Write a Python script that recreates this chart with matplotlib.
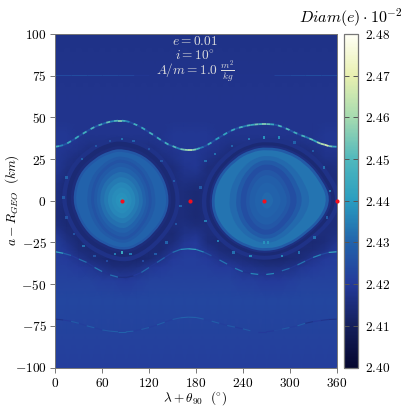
# Diameter map around the GEO resonance
import numpy as np
import matplotlib
matplotlib.use("Agg")
import matplotlib.pyplot as plt
from matplotlib.collections import LineCollection
from matplotlib.colors import LinearSegmentedColormap, Normalize
from matplotlib.patches import PathPatch
from matplotlib.path import Path

plt.rcParams['font.family'] = 'serif'
plt.rcParams['mathtext.fontset'] = 'cm'
plt.rcParams['font.size'] = 9.6

# background of the map, values are thousandths above 2.40
grid_lon = list(range(0, 361, 15))
grid_a = [100, 60, 48, 40, 35, 30, 25, 20, 15, 10, 5, 0, -5, -10, -15, -20, -25, -30, -35, -40, -48, -60, -100]
diam_table = [
    [17]*25,
    [18]*25,
    [18]*25,
    [19,19,18,18,18,18,18,18,18,18,19,19,19, 19,18,18,18,18,18,18,18,18,18,19,19],
    [19,19,18,17,17,17,17,17,17,18,19,19,19, 19,18,17,17,17,17,17,17,17,18,19,19],
    [19,18,17,15,15,15,15,15,15,17,18,19,19, 18,17,15,15,15,15,15,15,15,16,18,18],
    [19,17,15,15,15,15,15,15,15,15,17,19,19, 17,15,15,15,15,15,15,15,15,15,17,17],
    [19,16,15,15,15,15,15,15,15,15,15,18,19, 15,15,15,15,15,15,15,15,15,15,15,16],
    [18,15,15,15,15,15,15,15,15,15,15,17,17, 15,15,15,15,15,15,15,15,15,15,15,15],
    [17,14,15,15,15,15,15,15,15,15,15,16,15, 15,15,15,15,15,15,15,15,15,15,15,15],
    [16,14,15,15,15,15,15,15,15,15,15,15,14, 15,15,15,15,15,15,15,15,15,15,15,15],
    [16,14,15,15,15,15,15,15,15,15,15,15,14, 15,15,15,15,15,15,15,15,15,15,15,15],
    [15,14,15,15,15,15,15,15,15,15,15,15,14, 15,15,15,15,15,15,15,15,15,15,15,15],
    [15,14,15,15,15,15,15,15,15,15,15,15,14, 15,15,15,15,15,15,15,15,15,15,15,15],
    [16,14,15,15,15,15,15,15,15,15,15,16,15, 15,15,15,15,15,15,15,15,15,15,15,15],
    [19,15,14,15,15,15,15,15,15,15,14,17,18, 15,15,15,15,15,15,15,15,15,15,15,16],
    [21,17,14,15,15,15,15,15,15,14,15,19,20, 15,14,15,15,15,15,15,15,15,14,15,18],
    [21,19,15,14,15,15,15,15,14,14,18,20,20, 18,15,14,15,15,15,15,15,14,15,17,20],
    [21,20,18,15,14,13,13,13,14,17,20,21,21, 20,18,16,15,14,13,13,14,15,18,20,21],
    [21,21,20,19,17,15,15,16,19,20,21,21,21, 21,20,20,18,17,16,16,17,19,20,21,21],
    [22,22,22,22,21,21,20,21,22,22,22,22,22, 22,22,22,21,21,20,20,21,22,22,22,22],
    [23]*25,
    [21]*25,
]

# outlines of the two islands around their centres (deg, km), with the nested levels
left_center = 85
left_dlon = [0.9,28.6,50,60.6,58.5,41.4,20,0.9,-22.6,-44,-59,-63,-54.7,-35.4,-16.2]
left_da = [31.4,27.4,17.4,4.4,-7.6,-19.6,-27.6,-30,-26.6,-19.6,-7.6,3.4,16.4,25.4,30]
left_scale_lon = [1.24,1.15,1.06,1.0,0.95,0.85,0.72,0.64,0.58,0.52,0.45,0.37,0.29,0.21,0.13,0.06]
left_scale_a = [1.24,1.15,1.06,1.0,0.95,0.92,0.86,0.8,0.74,0.66,0.56,0.46,0.36,0.26,0.16,0.07]
left_level = [17,14,15,27,30,30,28,26,28,30,32,34,36,37,38,39]

right_center = 271
right_dlon = [0,26,51.7,70.9,81.6,73,51.7,26,0,-25.2,-50.8,-67.9,-72.2,-63.6,-42.3,-20.9]
right_da = [32.4,30.4,23.4,12.4,1.4,-9.6,-19.6,-27.6,-30.6,-28.6,-21.6,-10.6,1.4,14.4,25.4,30.8]
right_scale_lon = [1.18,1.1,1.04,1.0,0.95,0.82,0.68,0.56,0.48,0.42,0.38,0.32,0.22,0.1]
right_scale_a = [1.18,1.1,1.04,1.0,0.95,0.9,0.84,0.76,0.68,0.62,0.58,0.48,0.34,0.16]
right_level = [17,14,16,28,33,33,31,28,25,25,27,29,30,31]

# top ridge, read every 5 deg
top_lon = list(range(0, 361, 5))
top_a = [32.4,32.8,33.4,34.4,35.8,37.2,38.8,40.2,41.6,43,44.2,45.2,46,46.8,47.4,47.8,48,48,47.8,47.2,46.2,45.2,44,42.6,41,
         39.6,38,36.4,35,33.6,32.8,31.8,31,30.6,30.4,30.4,30.8,31.6,32.4,33.6,35,36.6,38,39.4,40.8,42,43,43.8,44.4,45,
         45.4,45.7,45.9,46,46,45.9,45.7,45.2,44.4,43.4,42.4,41.2,40.2,39.2,38.4,37.4,36.4,35.2,34.2,33.6,32.8,32.5,32.4]
top_val = [46,36,26,44,24,44,23,46,24,48,26,47,30,52,36,50,56,46,36,24,46,22,44,23,47,
           22,45,23,46,26,50,36,54,58,62,56,46,34,24,44,24,40,23,42,24,44,26,48,34,50,
           44,54,48,56,52,44,26,48,24,50,26,46,24,48,34,52,42,58,62,66,54,44]

# lower ridges, read every 10 deg
low_lon = list(range(0, 361, 10))
mid_a = [-30.6,-31.5,-32.8,-35,-37,-40,-42.5,-44.5,-45.8,-46,-45,-43,-40,-37,-34,-31,-29.2,-28.8,-29.2,-30.8,-33,-35.5,-38,-40.5,-42.5,
         -43.6,-44.2,-44.2,-43.6,-42,-40.5,-38.5,-36.2,-34,-32.3,-31,-30.6]
mid_val = [42,30,20,32,19,34,18,32,16,16,20,31,19,30,20,32,38,42,36,26,18,33,19,34,18,36,18,36,18,31,19,33,20,36,24,44]
far_a = [-71,-71.5,-72.3,-73.5,-75,-76.2,-77.5,-78.2,-78.6,-78.6,-78.2,-77.2,-76,-74.5,-72.8,-71.2,-70.2,-69.8,-70,-71,-72.2,-73.5,-74.8,-75.8,-76.8,
         -78,-78.6,-78.6,-78,-77,-76,-75,-73.5,-72.5,-71.8,-71.2,-71]
far_val = [17,20,28,21,29,21,28,29,30,29,21,28,21,29,21,28,30,30,29,22,29,21,28,20,28,22,20,20,23,28,21,29,17,20,18,17]

# faint line near +75 km
faint_lon = list(range(0, 361, 20))
faint_a = [75.5]*19
faint_val = [25,26,25,25,24,19,18,18,18,18,18,18,18,18,23,25,26,25]

# specks along the separatrices
speck_lon = [14,10,14,24,36,50,66,76,85,96,112,128,142,154,160,152,136,120,100,85,70,52,34,192,186,192,208,228,250,267,272,290,312,332,348,352,344,330,306,286,267,248,226,204]
speck_a = [14,2,-10,-20,-27,-33,-36,-32,-31,-32,-36,-32,-25,-14,-3,12,24,31,36,37,36,33,25,24,8,-12,-24,-31,-33,-25,-25,-33,-31,-22,-10,6,20,30,35,38,38,37,33,28]
speck_val = [30,28,26,26,32,26,24,34,44,34,24,28,30,26,30,28,26,26,30,32,26,26,30,32,28,34,34,32,36,38,38,36,32,32,28,34,32,28,30,36,38,34,30,32]

# equilibria
eq_lon = [85, 172, 267, 360]
eq_a = [0, 0, 0, 0]

x_ticks = [0, 60, 120, 180, 240, 300, 360]
y_ticks = [-100, -75, -50, -25, 0, 25, 50, 75, 100]
cbar_ticks = [2.40, 2.41, 2.42, 2.43, 2.44, 2.45, 2.46, 2.47, 2.48]

cmap = LinearSegmentedColormap.from_list("diam", [
    "#050730", "#15205c", "#243a9a", "#2263ab", "#2a9dc0",
    "#50b8bd", "#a5dab0", "#e8f0b0", "#fffff5"])
norm = Normalize(2.40, 2.48)


def val(v):
    return 2.40 + np.array(v) / 1000.0


def ridge(ax, lon, a, v, lw):
    pts = np.column_stack([lon, a])
    segs = np.stack([pts[:-1], pts[1:]], axis=1)
    lc = LineCollection(segs, cmap=cmap, norm=norm, linewidths=lw, capstyle='butt')
    lc.set_array(val(v))
    ax.add_collection(lc)


def island(ax, center, dlon, da, scales_lon, scales_a, levels):
    for sx, sy, lev in zip(scales_lon, scales_a, levels):
        pts = np.column_stack([center + sx*np.array(dlon), sy*np.array(da)])
        nxt = np.roll(pts, -1, axis=0)
        mids = (pts + nxt) / 2
        verts = [mids[-1]]
        codes = [Path.MOVETO]
        for p, m in zip(pts, mids):
            verts += [p, m]
            codes += [Path.CURVE3, Path.CURVE3]
        ax.add_patch(PathPatch(Path(verts, codes), facecolor=cmap(norm(val(lev))), edgecolor='none', linewidth=0))


fig = plt.figure(figsize=(4.07, 4.07), dpi=100)
W = 407.0
ax = fig.add_axes([55.5/W, (W-367.5)/W, 281.0/W, 333.5/W])
cax = fig.add_axes([343.5/W, (W-367.5)/W, 14.5/W, 333.5/W])

mesh = ax.pcolormesh(grid_lon, grid_a, val(diam_table), cmap=cmap, norm=norm, shading='gouraud', rasterized=True)

island(ax, left_center, left_dlon, left_da, left_scale_lon, left_scale_a, left_level)
island(ax, right_center, right_dlon, right_da, right_scale_lon, right_scale_a, right_level)

ridge(ax, top_lon, top_a, top_val, 1.3)
ridge(ax, low_lon, mid_a, mid_val, 0.9)
ridge(ax, low_lon, far_a, far_val, 0.8)
ridge(ax, faint_lon, faint_a, faint_val, 0.6)

ax.scatter(speck_lon, speck_a, c=val(speck_val), cmap=cmap, norm=norm, s=3, marker='s', linewidths=0)
ax.scatter(eq_lon, eq_a, c='#f01020', s=9, linewidths=0, zorder=5, clip_on=False)

ax.set_xlim(0, 360)
ax.set_ylim(-100, 100)
ax.set_xticks(x_ticks)
ax.set_xticklabels(["$%d$" % t for t in x_ticks])
ax.set_yticks(y_ticks)
ax.set_yticklabels(["$%d$" % t for t in y_ticks])
ax.tick_params(color='#777777', length=3.5, width=0.7, pad=3)
for s in ax.spines.values():
    s.set_color('#777777')
    s.set_linewidth(0.7)
fig.text(195/W, (W-398)/W, r"$\lambda+\theta_{90}\ \ (^{\circ})$", ha='center', va='center')
fig.text(12/W, (W-200)/W, r"$a-R_{GEO}\ \ (km)$", ha='center', va='center', rotation=90)

ax.text(179, 95.5, "$e=0.01$", color='#dddddd', ha='center', va='center')
ax.text(179, 87, r"$i=10^{\circ}$", color='#dddddd', ha='center', va='center')
ax.text(179, 77.5, r"$A/m=1.0\ \frac{m^2}{kg}$", color='#dddddd', ha='center', va='center')

cb = fig.colorbar(mesh, cax=cax)
cb.set_ticks(cbar_ticks)
cb.set_ticklabels(["$%.2f$" % t for t in cbar_ticks])
cax.tick_params(direction='in', left=True, right=True, length=3.5, width=0.7, color='#555555', pad=5)
cb.outline.set_edgecolor('#777777')
cb.outline.set_linewidth(0.9)
fig.text(402/W, (W-18)/W, r"$Diam(e)\cdot 10^{-2}$", ha='right', va='center', fontsize=11.5)

fig.savefig("out.png", dpi=100)
